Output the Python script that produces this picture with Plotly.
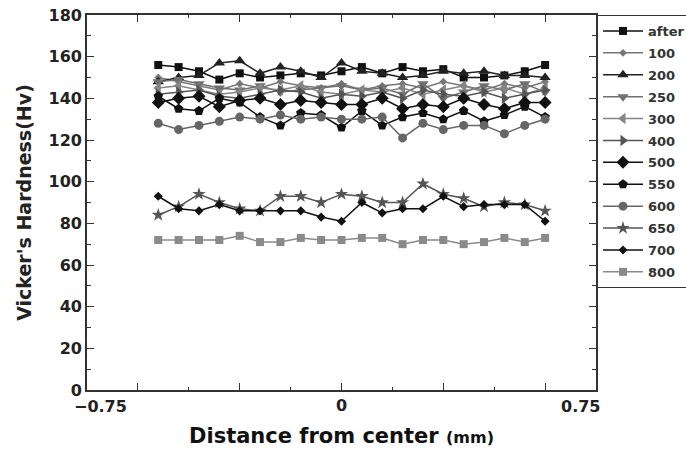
import plotly.graph_objects as go

x_pos = [-0.54, -0.48, -0.42, -0.36, -0.30, -0.24, -0.18, -0.12, -0.06, 0.0,
         0.06, 0.12, 0.18, 0.24, 0.30, 0.36, 0.42, 0.48, 0.54, 0.60]

series_names = ["after", "100", "200", "250", "300", "400", "500", "550", "600", "650", "700", "800"]

hv_after = [156, 155, 153, 149, 152, 150, 151, 152, 151, 153, 155, 152, 155, 153, 154, 150, 150, 151, 153, 156]
hv_100 = [150, 148, 146, 144, 147, 145, 148, 146, 145, 147, 144, 146, 147, 145, 148, 146, 144, 147, 145, 148]
hv_200 = [148, 150, 151, 157, 158, 152, 155, 153, 150, 157, 153, 152, 150, 151, 153, 152, 153, 151, 151, 150]
hv_250 = [148, 149, 147, 145, 144, 146, 143, 144, 145, 146, 144, 145, 142, 147, 140, 143, 146, 144, 147, 143]
hv_300 = [145, 146, 144, 142, 143, 145, 144, 146, 143, 142, 144, 143, 145, 142, 144, 146, 143, 145, 142, 145]
hv_400 = [142, 143, 144, 141, 140, 142, 144, 143, 140, 142, 141, 143, 140, 144, 142, 141, 143, 140, 142, 144]
hv_500 = [138, 140, 141, 136, 139, 140, 137, 139, 138, 137, 137, 140, 135, 137, 136, 140, 137, 135, 138, 138]
hv_550 = [141, 135, 134, 140, 138, 131, 127, 133, 132, 126, 134, 127, 131, 133, 130, 134, 129, 132, 136, 131]
hv_600 = [128, 125, 127, 129, 131, 130, 132, 130, 131, 130, 130, 131, 121, 128, 125, 127, 127, 123, 127, 130]
hv_650 = [84, 88, 94, 90, 87, 86, 93, 93, 90, 94, 93, 90, 90, 99, 94, 92, 88, 90, 89, 86]
hv_700 = [93, 87, 86, 89, 86, 86, 86, 86, 83, 81, 90, 85, 87, 87, 93, 88, 89, 89, 89, 81]
hv_800 = [72, 72, 72, 72, 74, 71, 71, 73, 72, 72, 73, 73, 70, 72, 72, 70, 71, 73, 71, 73]

values = [hv_after, hv_100, hv_200, hv_250, hv_300, hv_400, hv_500, hv_550, hv_600, hv_650, hv_700, hv_800]

x_tick_vals = [-0.6, -0.3, 0, 0.3, 0.6]
x_tick_text = ["", "", "<b>0</b>", "", ""]
x_minor_vals = [-0.45, -0.15, 0.15, 0.45]
x_end_labels = ["−0.75", "0.75"]

styles = [
    ("#111111", "square", 8),
    ("#777777", "diamond", 6),
    ("#222222", "triangle-up", 10),
    ("#707070", "triangle-down", 10),
    ("#858585", "triangle-left", 10),
    ("#555555", "triangle-right", 10),
    ("#111111", "diamond", 10),
    ("#111111", "pentagon", 10),
    ("#666666", "circle", 9),
    ("#555555", "star", 10),
    ("#111111", "diamond", 7),
    ("#8a8a8a", "square", 8),
]

fig = go.Figure()
for name, vals, (col, sym, sz) in zip(series_names, values, styles):
    fig.add_trace(go.Scatter(
        x=x_pos, y=vals, name="<b>" + name + "</b>", mode="lines+markers",
        line=dict(color=col, width=1.5),
        marker=dict(symbol=sym, size=sz, color=col),
        legendgroup=name,
    ))

font_family = "DejaVu Sans, Verdana, sans-serif"

fig.update_layout(
    width=686, height=450,
    margin=dict(l=87, r=90, t=15, b=60, autoexpand=False),
    paper_bgcolor="white", plot_bgcolor="white",
    font=dict(family=font_family, color="#222222"),
    showlegend=True,
    legend=dict(
        x=1.002, xanchor="left", y=1.0, yanchor="top",
        bordercolor="#333333", borderwidth=1,
        font=dict(size=13, color="#333333", family=font_family),
        tracegroupgap=2, itemwidth=40,
        bgcolor="white",
    ),
    xaxis=dict(
        range=[-0.75, 0.75],
        tickmode="array",
        tickvals=x_tick_vals,
        ticktext=x_tick_text,
        ticks="inside", ticklen=7, tickwidth=1.3, tickcolor="#333333",
        minor=dict(tickvals=x_minor_vals, ticks="inside", ticklen=3, tickcolor="#333333"),
        showline=True, linecolor="#333333", linewidth=1.6, mirror="ticks",
        showgrid=False, zeroline=False,
        tickfont=dict(size=16, color="#222222"),
        title=dict(text="<b>Distance from center <span style='font-size:16px'>(mm)</span></b>",
                   font=dict(size=21, color="#111111"), standoff=14),
    ),
    yaxis=dict(
        range=[0, 180],
        tickmode="linear", tick0=0, dtick=20,
        ticks="inside", ticklen=7, tickwidth=1.3, tickcolor="#333333",
        minor=dict(dtick=10, ticks="inside", ticklen=4, tickcolor="#333333"),
        showline=True, linecolor="#333333", linewidth=1.6, mirror="ticks",
        showgrid=False, zeroline=False,
        tickprefix="<b>", ticksuffix="</b>",
        tickfont=dict(size=16, color="#222222"),
        title=dict(text="<b>Vicker's Hardness(Hv)</b>", font=dict(size=19, color="#222222"), standoff=12),
    ),
)

for xv, txt in zip([-0.709, 0.703], x_end_labels):
    fig.add_annotation(
        x=xv, y=0, xref="x", yref="paper", yanchor="top", yshift=-5,
        text="<b>" + txt + "</b>", showarrow=False,
        font=dict(size=16, color="#222222", family=font_family),
    )

fig.write_html("out.html")
